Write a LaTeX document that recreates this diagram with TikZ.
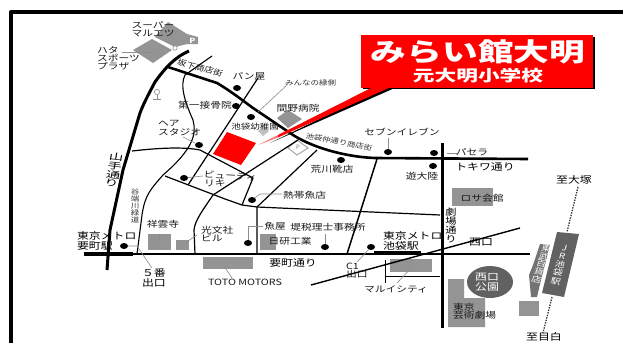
\documentclass[tikz,border=0pt]{standalone}
\usepackage{fontspec}
\setmainfont{Noto Sans CJK JP}
\tikzset{
  lab/.style={font={\fontsize{8.6}{8}\selectfont},text=black!90,inner sep=0pt,outer sep=0pt,align=left,transform shape,xscale=1.25},
  tiny/.style={lab,font={\fontsize{6.8}{7}\selectfont},text=black!80},
  big/.style={lab,font={\fontsize{9.5}{9.5}\selectfont},text=black},
  wlab/.style={lab,text=white,align=center},
  blk/.style={draw=black,line width=#1,line join=round},
  blk/.default=1pt,
  leader/.style={draw=black!45,line width=0.6pt},
  bldg/.style={fill=black!42,draw=none},
  dot/.style={fill=black,draw=none,ellipse,minimum width=8pt,minimum height=6pt,inner sep=0pt},
  rail/.style={draw=black!80,line width=1.3pt,dash pattern=on 1.4pt off 1.2pt},
}
\usetikzlibrary{shapes.geometric}
\begin{document}
\begin{tikzpicture}[x=1pt,y=-1pt]
\useasboundingbox (0,0) rectangle (623,343);
\fill[white] (0,0) rectangle (623,343);
% frame
\draw[line width=4pt,line join=round] (11,343) -- (11,12) -- (623,12);
% buildings
\fill[bldg] (168,22) -- (187,34) -- (198,37) -- (198,44) -- (187,44) -- (175,47) -- (155,37) -- cycle;
\fill[bldg] (152,39) -- (172,50) -- (153,63) -- (133,50) -- cycle;
\node[wlab,font={\fontsize{7}{7}\selectfont\bfseries}] (pk1) at (192.5,40.5) {P};
\fill[bldg] (288,110) -- (302,119) -- (288,128) -- (277,118) -- cycle;
\fill[black!25] (263,126) -- (269,131) -- (263,136) -- (258,131) -- cycle;
\draw[black!35,line width=1pt,fill=white] (297,140) -- (308,148) -- (297,155) -- (288,148) -- cycle;
\node[font={\fontsize{6}{6}\selectfont},text=black!50,inner sep=0pt] (pk2) at (298,147.5) {P};
\fill[bldg] (452,188) rectangle (493,206);
\fill[bldg] (148,234) rectangle (171,250);
\fill[bldg] (176,240) rectangle (189,250);
\fill[bldg] (260,234) rectangle (276,250);
\fill[bldg] (203,257) rectangle (253,269);
\fill[bldg] (390,259) rectangle (432,272);
\fill[bldg] (448,279) -- (464,279) -- (464,298) -- (485,298) -- (485,327) -- (448,327) -- cycle;
\fill[black!62] (490,282) ellipse (23 and 16);
\fill[black!55] (540,244) -- (550,245) -- (541,280) -- (537,297) -- (531,297) -- (529,275) -- (533,265) -- cycle;
\fill[black!62] (557,232) -- (579,234) -- (564,297) -- (542,293) -- cycle;
\fill[bldg] (519,301) rectangle (539,316);
% railway
\coordinate (r1) at (578,187); \coordinate (r2) at (567,232);
\coordinate (r3) at (552,297); \coordinate (r4) at (543,333);
\draw[rail] (r1) -- (r2);
\draw[rail] (r3) -- (r4);
% thin roads
\draw[blk=1.1pt] (212,56) -- (185,75) .. controls (180,85) and (184,100) .. (193,120) .. controls (197,135) and (192,150) .. (163,175) .. controls (150,190) and (145,195) .. (142,215) -- (137,254);
\draw[blk=1.2pt] (258,78) -- (188,185);
\draw[blk=1.2pt] (132,151) .. controls (150,149) and (180,146) .. (200,150) -- (253,178) -- (242,205);
\draw[blk=1.2pt] (165,176) -- (225,199) -- (242,205) -- (257,207) -- (440,215);
\draw[blk=1.2pt] (298,140) -- (213,195) .. controls (203,210) and (195,220) .. (194,230) -- (195,254);
\draw[blk=1.2pt] (317,150) -- (257,207) -- (257,254);
\draw[blk=1.5pt] (377,159) -- (347,254);
\draw[blk=1.4pt] (311,285) -- (520,228);
\draw[blk=0.9pt] (385,260) -- (385,283);
\draw[blk=0.9pt] (385,276) -- (440,276);
% main roads
\draw[blk=3pt] (189,51) .. controls (175,57) and (165,68) .. (155,82) .. controls (147,97) and (143,105) .. (140,113) -- (123,170) -- (110,230) -- (107,270);
\draw[blk=2.6pt] (168,67) -- (217,83) .. controls (232,92) and (242,100) .. (253,108) -- (290,133) .. controls (310,147) and (345,157) .. (375,158) -- (528,159);
\draw[blk=2pt] (85,254) -- (530,254);
\draw[blk=4pt] (84,254) -- (133,254);
\draw[blk=4pt] (374,253) -- (421,253);
\draw[blk=3pt] (442,143) -- (442,328);
% red site and pointer
\fill[red] (227,132) -- (256,143) -- (241,165) -- (213,154) -- cycle;
\fill[black] (593,37) rectangle (595,89);
\fill[black] (363,87) rectangle (595,89);
\fill[black] (270,143) -- (397,87) -- (385,87) -- cycle;
\fill[red] (278,135) -- (373,87) -- (391,87) -- (278,137.5) -- cycle;
\fill[red!55] (258,145) -- (278,135) -- (278,137.5) -- cycle;
\fill[red] (361,35) rectangle (593,87.5);
% banner text
\node[wlab,font={\fontsize{25.5}{26}\selectfont\bfseries},xscale=1.12] (title) at (478,52) {みらい館大明};
\node[wlab,font={\fontsize{15.5}{16}\selectfont\bfseries},xscale=1.12] (sub) at (478,76) {元大明小学校};
% dots
\node[dot] (d1) at (237,88) {};
\node[dot] (d2) at (236,106) {};
\node[dot] (d3) at (251,117) {};
\node[dot] (d4) at (199,145) {};
\node[dot] (d5) at (341,160) {};
\node[dot] (d6) at (388,152) {};
\node[dot] (d7) at (434,153) {};
\node[dot] (d8) at (433,166) {};
\node[dot] (d9) at (184,178) {};
\node[dot] (d10) at (252,200) {};
\node[dot] (d11) at (248,243) {};
\node[dot] (d12) at (124,246) {};
\node[dot] (d13) at (325,247) {};
\node[dot] (d14) at (371,247) {};
% labels
\node[lab,align=center] (maruetsu) at (153,29) {スーパー\\マルエツ};
\node[lab,anchor=west] (hata) at (97,58.5) {ハタ\\スポーツ\\プラザ};
\node[lab,rotate=-18,font={\fontsize{7.6}{8}\selectfont}] (saka) at (200,68) {坂下商店街};
\node[lab] (pan) at (249,76) {パン屋};
\node[tiny,anchor=west] (minna) at (285,83) {みんなの縁側};
\node[lab] (daiichi) at (205,105) {第一接骨院};
\node[lab] (mano) at (298,108) {間野病院};
\node[lab,font={\fontsize{7.6}{8}\selectfont}] (yochien) at (255,127) {池袋幼稚園};
\node[lab,anchor=west] (hea) at (158,124) {ヘア};
\node[lab,anchor=west] (studio) at (158,132) {スタジオ};
\node[tiny,rotate=-13] (naka) at (339,142) {池袋仲通り商店街};
\node[lab] (seven) at (402,132) {セブンイレブン};
\node[lab] (pasela) at (472,152) {パセラ};
\node[big] (tokiwa) at (485,167) {トキワ通り};
\node[lab] (arakawa) at (332,169) {荒川靴店};
\node[lab] (yudairiku) at (422,176) {遊大陸};
\node[lab] (rosa) at (482,198) {ロサ会館};
\node[big,align=center,font={\fontsize{9}{9}\selectfont}] (geki) at (451,225.5) {劇\\場\\通\\り};
\node[big] (nishi) at (481,242) {西口};
\node[big] (otsuka) at (574,180) {至大塚};
\node[big,anchor=west] (ikemetro) at (383,241) {東京メトロ\\池袋駅};
\node[lab] (zeirishi) at (328,227) {堤税理士事務所};
\node[lab] (nikken) at (290,241) {日研工業};
\node[lab] (sakana) at (275,226) {魚屋};
\node[lab,anchor=west] (kobunsha) at (201,234) {光文社\\ビル};
\node[lab] (shoun) at (163,224) {祥雲寺};
\node[tiny,align=center,xscale=1] (taniba) at (135,206) {谷\\端\\川\\緑\\道};
\node[big,anchor=west] (kanametro) at (77,241) {東京メトロ\\要町駅};
\node[big,anchor=west] (goban) at (142,278) {５番\\出口};
\node[lab] (toto) at (245,282) {TOTO MOTORS};
\node[big] (kaname) at (293,263) {要町通り};
\node[lab,anchor=west] (c1) at (346,270.5) {C1\\出口};
\node[lab] (marui) at (396,289) {マルイシティ};
\node[lab,anchor=west] (geijutsu) at (453,311) {東京\\芸術劇場};
\node[wlab,font={\fontsize{9.5}{10}\selectfont}] (koen) at (487,282) {西口\\公園};
\node[big] (mejiro) at (544,337) {至目白};
\node[wlab,rotate=-14,font={\fontsize{8}{8.2}\selectfont},xscale=1,text=white] (tobu) at (541.5,264) {東\\武\\百\\貨\\店};
\node[wlab,rotate=-12,font={\fontsize{8}{8.4}\selectfont},xscale=1] (jr) at (560,265) {J\\R\\池\\袋\\駅};
\node[big,align=center,rotate=-8,font={\fontsize{8.8}{9}\selectfont},xscale=1.3] (yamate) at (114,170) {山\\手\\通\\り};
\node[lab,anchor=west,rotate=-4] (beauty) at (204,174.5) {ビューティ};
\node[lab,anchor=west] (riki) at (204,183.5) {リキ};
\node[lab,anchor=west] (nettai) at (283,195) {熱帯魚店};
% leaders
\draw[leader] (122,52) -- (155,52);
\draw[leader] (287,85) -- (258,112);
\draw[leader] (183,137) -- (195,143);
\draw[leader] (388,138) -- (d6);
\draw[leader] (447,153) -- (457,153);
\draw[leader] (263,226) -- (248,226) -- (d11);
\draw[leader] (159,234) -- (159,241);
\draw[leader] (197,235) -- (182,245);
\draw[leader] (128,246) -- (137,246) -- (152,268);
\draw[leader] (224,266) -- (232,278);
\draw[leader] (d14) -- (357,262);
\draw[leader] (412,267) -- (397,283);
\draw[leader] (d13) -- (325,234);
\draw[leader] (d9) -- (203,176);
\draw[leader] (d10) -- (260,194) -- (282,194);
% small marks
\draw[leader] (157,92) circle (2.6);
\draw[leader] (157,94.6) -- (157,99) (153,99) -- (161,99);
\draw[leader,fill=white] (175,48) circle (2.2);
\end{tikzpicture}
\end{document}
